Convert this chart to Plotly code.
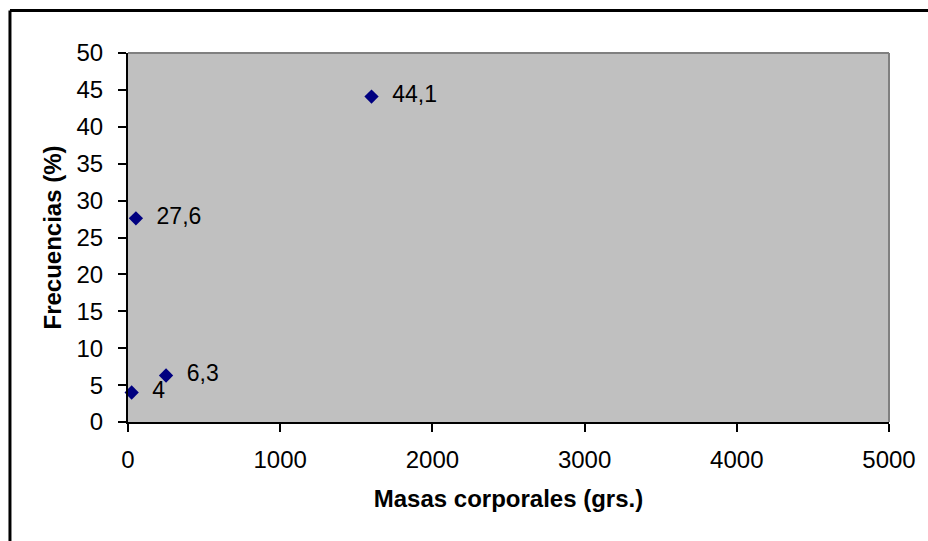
import plotly.graph_objects as go

masas = [24, 250, 52, 1600]
frecuencias = [4, 6.3, 27.6, 44.1]
etiquetas = ["4", "6,3", "27,6", "44,1"]

x_ticks = [0, 1000, 2000, 3000, 4000, 5000]
y_ticks = [0, 5, 10, 15, 20, 25, 30, 35, 40, 45, 50]

FONT = "Liberation Sans, Arial, sans-serif"

fig = go.Figure()
fig.add_trace(go.Scatter(
    x=masas, y=frecuencias, mode="markers+text",
    text=["  " + t for t in etiquetas], textposition="middle right",
    textfont=dict(family=FONT, size=23, color="black"),
    marker=dict(symbol="diamond", size=11, color="#000080"),
    cliponaxis=False, showlegend=False,
))

L, R, T, B = 128, 892, 53, 422
W, H = 928, 541
pw, ph = R - L, B - T

fig.update_layout(
    width=W, height=H,
    margin=dict(l=L, r=W - R, t=T, b=H - B),
    paper_bgcolor="white", plot_bgcolor="#C0C0C0",
    font=dict(family=FONT, size=24, color="black"),
    xaxis=dict(range=[0, 5000], tickvals=x_ticks, ticks="outside", ticklen=8,
               tickwidth=2, tickcolor="black", showgrid=False, zeroline=False,
               showline=True, linecolor="black", linewidth=2,
               tickfont=dict(size=24), ticklabelstandoff=7,
               title=dict(text="<b>Masas corporales (grs.)</b>",
                          font=dict(size=24), standoff=18)),
    yaxis=dict(range=[0, 50], tickvals=y_ticks, ticks="outside", ticklen=8,
               tickwidth=2, tickcolor="black", showgrid=False, zeroline=False,
               showline=True, linecolor="black", linewidth=2,
               tickfont=dict(size=24), ticklabelstandoff=10,
               title=dict(text="<b>Frecuencias (%)</b>",
                          font=dict(size=24), standoff=8)),
)

# gray top/right border of plot area
fig.add_shape(type="line", xref="paper", yref="paper", x0=0, x1=1, y0=1, y1=1,
              line=dict(color="#808080", width=2), layer="below")
fig.add_shape(type="line", xref="paper", yref="paper", x0=1, x1=1, y0=0, y1=1,
              line=dict(color="#808080", width=2), layer="below")

# outer chart border (left and top edges visible in the frame)
bx0 = (9.5 - L) / pw
by1 = (B - 10.5) / ph
fig.add_shape(type="line", xref="paper", yref="paper",
              x0=bx0, x1=(W + 20 - L) / pw, y0=by1, y1=by1,
              line=dict(color="black", width=3))
fig.add_shape(type="line", xref="paper", yref="paper",
              x0=bx0, x1=bx0, y0=(B - H - 20) / ph, y1=by1,
              line=dict(color="black", width=3))

fig.write_html("out.html", config={"displayModeBar": False},
               post_script="document.body.style.margin='0px';")
